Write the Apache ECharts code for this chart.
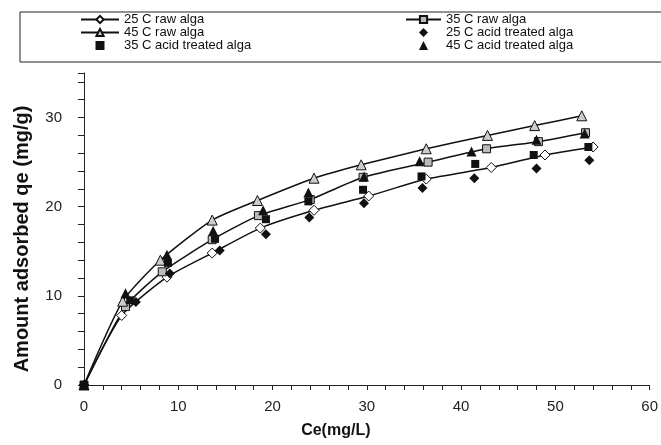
<!DOCTYPE html>
<html>
<head>
<meta charset="utf-8">
<script src="https://cdn.jsdelivr.net/npm/echarts@6/dist/echarts.min.js"></script>
<style>
  html, body { margin: 0; padding: 0; background: #fff; }
  #main { width: 661px; height: 445px; }
</style>
</head>
<body>
<div id="main"></div>
<script>
// [Ce, qe] pairs
const raw25 = [[0, 0], [4.0, 7.8], [8.8, 12.1], [13.6, 14.8], [18.7, 17.6], [24.4, 19.6], [30.2, 21.2], [36.3, 23.1], [43.2, 24.4], [48.9, 25.8], [54.0, 26.7]];
const raw35 = [[0, 0], [4.4, 8.8], [8.3, 12.7], [13.6, 16.3], [18.5, 19.0], [24.0, 20.8], [29.6, 23.3], [36.5, 25.0], [42.7, 26.5], [48.2, 27.3], [53.2, 28.3]];
const raw45 = [[0, 0], [4.1, 9.4], [8.1, 14.0], [13.6, 18.5], [18.4, 20.7], [24.4, 23.2], [29.4, 24.7], [36.3, 26.5], [42.8, 28.0], [47.8, 29.1], [52.8, 30.2]];
const acid25 = [[0, 0], [5.5, 9.3], [9.1, 12.5], [14.4, 15.1], [19.3, 16.9], [23.9, 18.8], [29.7, 20.4], [35.9, 22.1], [41.4, 23.2], [48.0, 24.3], [53.6, 25.2]];
const acid35 = [[0, 0], [4.9, 9.5], [8.9, 13.7], [13.9, 16.4], [19.3, 18.6], [23.8, 20.6], [29.6, 21.9], [35.8, 23.4], [41.5, 24.8], [47.7, 25.8], [53.5, 26.7]];
const acid45 = [[0, 0], [4.4, 10.3], [8.8, 14.6], [13.7, 17.3], [19.0, 19.6], [23.8, 21.6], [29.7, 23.4], [35.6, 25.1], [41.1, 26.2], [48.0, 27.5], [53.1, 28.2]];

const names = ['25 C raw alga', '35 C raw alga', '45 C raw alga',
  '25 C acid treated alga', '35 C acid treated alga', '45 C acid treated alga'];

const font = 'Liberation Sans, Arial, sans-serif';
const ink = '#111';

// square paths so the legend keeps the marker shape instead of stretching it
const diamondIcon = 'path://M5,0L10,5L5,10L0,5Z';
const squareIcon = 'path://M1,1L9,1L9,9L1,9Z';
const triangleIcon = 'path://M5,0L10,10L0,10Z';

function rawLine(name, data, symbol, fill, size) {
  return {
    name: name,
    type: 'line',
    data: data,
    smooth: 0.2,
    symbol: symbol,
    symbolSize: size,
    showAllSymbol: true,
    lineStyle: { color: ink, width: 1.5 },
    itemStyle: { color: fill, borderColor: ink, borderWidth: 1 },
    z: 2
  };
}

function acidPts(name, data, symbol, size) {
  return {
    name: name,
    type: 'scatter',
    data: data,
    symbol: symbol,
    symbolSize: size,
    itemStyle: { color: ink, opacity: 1 },
    z: 3
  };
}

const chart = echarts.init(document.getElementById('main'));

const legendBase = {
  orient: 'vertical',
  top: 13,
  padding: 0,
  itemHeight: 9,
  itemGap: 0,
  symbolKeepAspect: true,
  textStyle: { fontFamily: font, fontSize: 13, color: ink, lineHeight: 13 }
};

chart.setOption({
  animation: false,
  backgroundColor: '#fff',
  graphic: [{
    type: 'rect',
    shape: { x: 20, y: 12, width: 700, height: 50 },
    style: { fill: 'none', stroke: '#222', lineWidth: 1 }
  }],
  legend: [
    Object.assign({}, legendBase, {
      left: 80, itemWidth: 38,
      data: [names[0], names[2], { name: names[4], icon: squareIcon }]
    }),
    Object.assign({}, legendBase, {
      left: 405, itemWidth: 35,
      data: [names[1], { name: names[3], icon: diamondIcon }, { name: names[5], icon: triangleIcon }]
    })
  ],
  grid: { left: 84, right: 11, top: 73, bottom: 60 },
  xAxis: {
    type: 'value',
    min: 0,
    max: 60,
    interval: 2,
    name: 'Ce(mg/L)',
    nameLocation: 'middle',
    nameGap: 38,
    nameTextStyle: { fontFamily: font, fontSize: 16, fontWeight: 'bold', color: ink, padding: [0, 62, 0, 0] },
    axisLine: { lineStyle: { color: '#222', width: 1 } },
    axisTick: { inside: false, length: 5, lineStyle: { color: '#222' } },
    axisLabel: {
      fontFamily: font, fontSize: 15, color: '#222', margin: 14,
      formatter: function (v) { return v % 10 === 0 ? String(v) : ''; }
    },
    splitLine: { show: false }
  },
  yAxis: {
    type: 'value',
    min: 0,
    max: 35,
    interval: 2,
    name: 'Amount adsorbed qe (mg/g)',
    nameLocation: 'middle',
    nameGap: 52,
    nameTextStyle: { fontFamily: font, fontSize: 20, fontWeight: 'bold', color: ink, padding: [0, 20, 0, 0] },
    axisLine: { show: true, lineStyle: { color: '#222', width: 1 } },
    axisTick: { show: true, inside: false, length: 6, lineStyle: { color: '#222' } },
    axisLabel: {
      fontFamily: font, fontSize: 15, color: '#222', margin: 22,
      formatter: function (v) { return v % 10 === 0 ? String(v) : ''; }
    },
    splitLine: { show: false }
  },
  series: [
    rawLine(names[0], raw25, 'diamond', '#fff', 10),
    rawLine(names[1], raw35, 'rect', '#bbb', 8),
    rawLine(names[2], raw45, 'triangle', '#ccc', 10),
    acidPts(names[3], acid25, 'diamond', 10),
    acidPts(names[4], acid35, 'rect', 8),
    acidPts(names[5], acid45, 'triangle', 10)
  ]
});
</script>
</body>
</html>
